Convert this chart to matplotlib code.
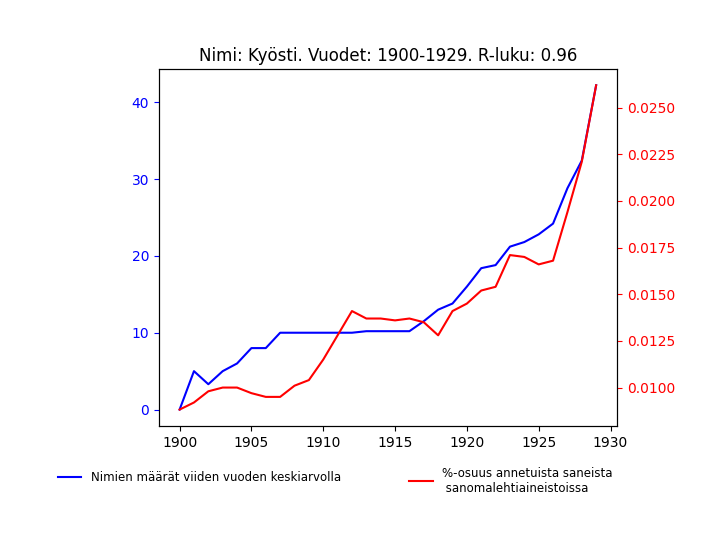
import matplotlib
matplotlib.use("Agg")
from matplotlib import pyplot as plt

years = list(range(1900, 1930))
counts = [0, 5, 3.3, 5, 6, 8, 8, 10, 10, 10, 10, 10, 10, 10.2, 10.2, 10.2, 10.2,
          11.5, 13, 13.8, 16, 18.4, 18.8, 21.2, 21.8, 22.8, 24.2, 28.8, 32.4, 42.2]
shares = [0.00882, 0.0092, 0.0098, 0.0100, 0.0100, 0.0097, 0.0095, 0.0095, 0.0101,
          0.0104, 0.0115, 0.0128, 0.0141, 0.0137, 0.0137, 0.0136, 0.0137, 0.0135,
          0.0128, 0.0141, 0.0145, 0.0152, 0.0154, 0.0171, 0.0170, 0.0166, 0.0168,
          0.0194, 0.0221, 0.0262]

fig, ax = plt.subplots(figsize=(7.25, 5.48), dpi=100)
fig.subplots_adjust(left=0.219, right=0.851, top=0.874, bottom=0.223)
l1, = ax.plot(years, counts, color="b", label="Nimien määrät viiden vuoden keskiarvolla")
ax.tick_params(axis="y", colors="b")
ax2 = ax.twinx()
l2, = ax2.plot(years, shares, color="r", label="%-osuus annetuista saneista\n sanomalehtiaineistoissa")
ax2.tick_params(axis="y", colors="r")
ax.set_title("Nimi: Kyösti. Vuodet: 1900-1929. R-luku: 0.96")

fig.legend(handles=[l1], loc="upper left", bbox_to_anchor=(0.065, 0.16), frameon=False, fontsize=8.5)
fig.legend(handles=[l2], loc="upper left", bbox_to_anchor=(0.55, 0.168), frameon=False, fontsize=8.5)
fig.savefig("out.png")
